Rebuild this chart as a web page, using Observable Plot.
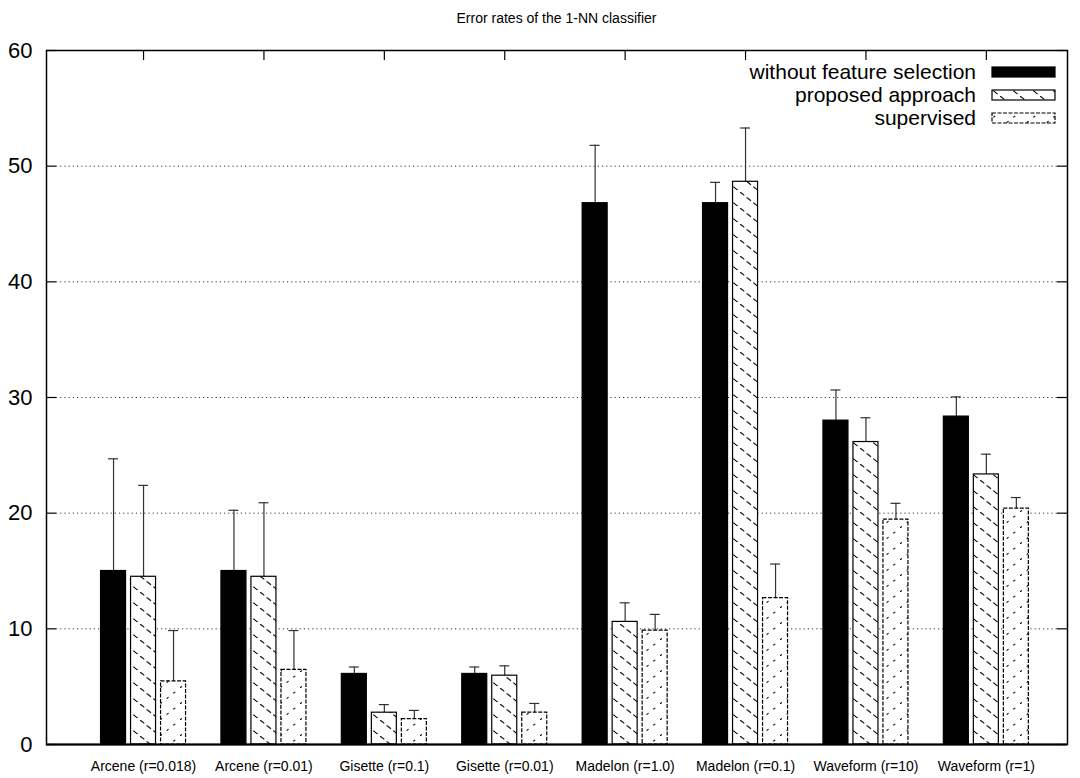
<!DOCTYPE html>
<html><head><meta charset="utf-8">
<script src="https://cdn.jsdelivr.net/npm/d3@7"></script>
<script src="https://cdn.jsdelivr.net/npm/@observablehq/plot@0.6"></script>
<style>
body{margin:0;background:#fff;font-family:"Liberation Sans",Arial,Helvetica,sans-serif;}
#title{width:1080px;height:32px;text-align:center;font-size:14px;line-height:14px;padding-top:11px;padding-left:33px;box-sizing:border-box;color:#000;}
#chart svg{display:block;}
</style></head><body>
<svg width="0" height="0" style="position:absolute">
<defs>
<pattern id="hatchA" patternUnits="userSpaceOnUse" width="20" height="16">
<rect width="20" height="16" fill="white"/>
<line x1="0" y1="0" x2="20" y2="16" stroke="black" stroke-width="1.1" stroke-dasharray="5.5,3"/>
</pattern>
<pattern id="hatchB" patternUnits="userSpaceOnUse" width="20" height="16">
<rect width="20" height="16" fill="white"/>
<line x1="0" y1="16" x2="20" y2="0" stroke="black" stroke-width="1.1" stroke-dasharray="2.5,6"/>
</pattern>
</defs></svg>
<div id="title">Error rates of the 1-NN classifier</div>
<div id="chart"></div>
<script>
const categories = ["Arcene (r=0.018)","Arcene (r=0.01)","Gisette (r=0.1)","Gisette (r=0.01)","Madelon (r=1.0)","Madelon (r=0.1)","Waveform (r=10)","Waveform (r=1)"];
const seriesNames = ["without feature selection","proposed approach","supervised"];
const withoutFS     = [15.0, 15.0, 6.1, 6.1, 46.8, 46.8, 28.0, 28.35];
const withoutFSErr  = [9.7, 5.25, 0.6, 0.6, 5.0, 1.8, 2.65, 1.7];
const proposed      = [14.5, 14.5, 2.75, 5.95, 10.6, 48.65, 26.15, 23.35];
const proposedErr   = [7.9, 6.4, 0.7, 0.85, 1.65, 4.65, 2.1, 1.75];
const supervised    = [5.45, 6.45, 2.2, 2.75, 9.85, 12.65, 19.45, 20.4];
const supervisedErr = [4.4, 3.4, 0.75, 0.8, 1.4, 2.95, 1.4, 0.95];
const yTicks = [0, 10, 20, 30, 40, 50, 60];

const values = [withoutFS, proposed, supervised];
const errors = [withoutFSErr, proposedErr, supervisedErr];
const fills = ["black", "url(#hatchA)", "url(#hatchB)"];
const strokeDash = [null, null, "4,1.5"];

const W = 1080, H = 746, mT = 18, mB = 34, mL = 46, mR = 13;
const frameW = W - mL - mR, frameH = H - mT - mB;
const X0 = -0.806, X1 = 7.674;
const pxPerUnit = frameW / (X1 - X0);
const off = 30 / pxPerUnit, bw = 25 / pxPerUnit, capHalf = 5 / pxPerUnit;
const indices = categories.map((d, i) => i);

const rows = [];
values.forEach((arr, s) => arr.forEach((v, i) => rows.push({i, s, v, e: errors[s][i]})));

const barMarks = [];
for (let s = 0; s < 3; s++) {
  const data = rows.filter(r => r.s === s);
  barMarks.push(Plot.ruleX(data, {x: d => d.i + (d.s - 1) * off, y1: d => d.v, y2: d => d.v + d.e, stroke: "#333", strokeWidth: 1.2}));
  barMarks.push(Plot.ruleY(data, {y: d => d.v + d.e, x1: d => d.i + (d.s - 1) * off - capHalf, x2: d => d.i + (d.s - 1) * off + capHalf, stroke: "#333", strokeWidth: 1.2}));
  barMarks.push(Plot.rect(data, {
    x1: d => d.i + (d.s - 1) * off - bw / 2,
    x2: d => d.i + (d.s - 1) * off + bw / 2,
    y1: 0, y2: d => d.v,
    fill: fills[s], stroke: "black", strokeWidth: 1.2,
    strokeDasharray: strokeDash[s]
  }));
}

const chart = Plot.plot({
  width: W, height: H,
  marginTop: mT, marginBottom: mB, marginLeft: mL, marginRight: mR,
  x: {type: "linear", domain: [X0, X1], axis: null},
  y: {domain: [0, 60], axis: null},
  style: {fontFamily: '"Liberation Sans", Arial, Helvetica, sans-serif', background: "white", color: "black"},
  marks: [
    Plot.ruleY(yTicks.slice(1, -1), {stroke: "#000", strokeOpacity: 0.8, strokeDasharray: "1.2,3", insetLeft: 10, insetRight: 10}),
    Plot.ruleY(yTicks, {insetRight: frameW - 10, stroke: "black", strokeWidth: 1.2}),
    Plot.ruleY(yTicks, {insetLeft: frameW - 10, stroke: "black", strokeWidth: 1.2}),
    Plot.ruleX(indices, {insetBottom: frameH - 10, stroke: "black", strokeWidth: 1.2}),
    ...barMarks,
    Plot.ruleY([0], {stroke: "black", strokeWidth: 2}),
    Plot.frame({stroke: "black", strokeWidth: 1.5}),
    Plot.axisY({ticks: yTicks, tickSize: 0, tickPadding: 14, fontSize: 22, label: null, tickFormat: d => String(d)}),
    Plot.axisX({ticks: indices, tickSize: 0, tickPadding: 17, fontSize: 14, label: null, tickFormat: i => categories[i]})
  ]
});
document.getElementById("chart").appendChild(chart);

// legend inside the plot (top right)
const svg = d3.select(chart);
const lg = svg.append("g").attr("font-family", '"Liberation Sans", Arial, Helvetica, sans-serif').attr("font-size", 21);
const rowY = [40, 63, 86];
seriesNames.forEach((name, s) => {
  lg.append("text").attr("x", 976).attr("y", rowY[s]).attr("dy", "0.35em").attr("text-anchor", "end").attr("fill", "black").text(name);
  lg.append("rect").attr("x", 992).attr("y", rowY[s] - 5).attr("width", 63).attr("height", 10)
    .attr("fill", fills[s]).attr("stroke", "black").attr("stroke-width", 1.2)
    .attr("stroke-dasharray", strokeDash[s]);
});
</script>
</body></html>
